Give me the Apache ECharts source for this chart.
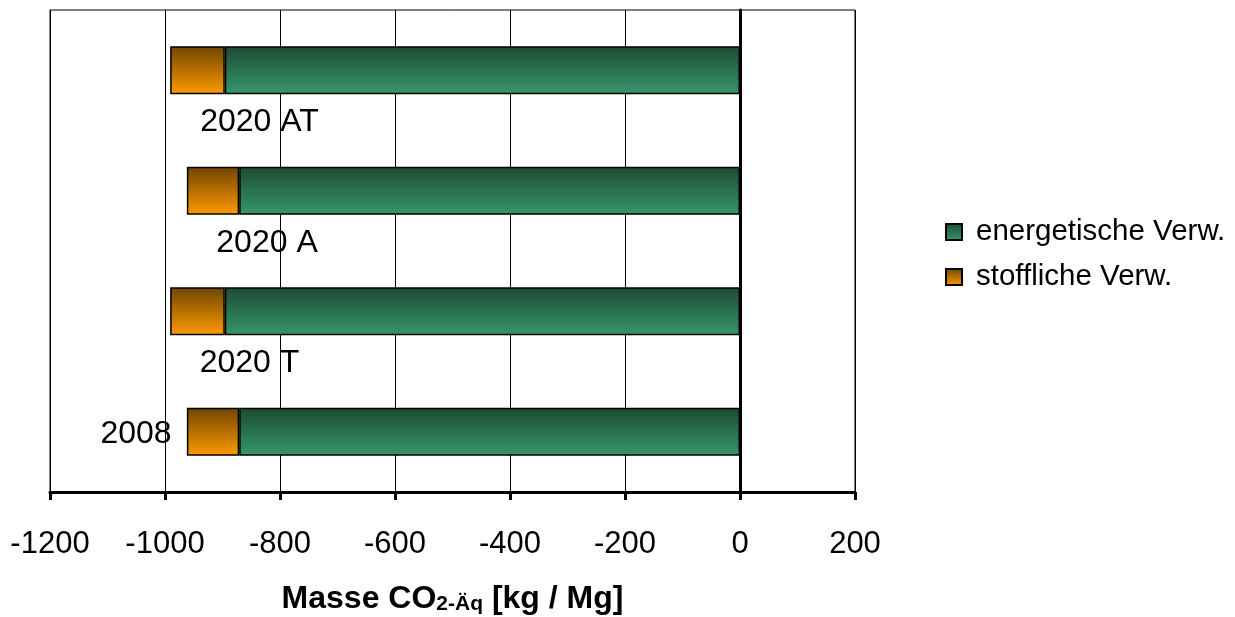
<!DOCTYPE html>
<html><head><meta charset="utf-8">
<script src="https://cdn.jsdelivr.net/npm/echarts@6/dist/echarts.min.js"></script>
<style>html,body{margin:0;padding:0;background:#fff}#c{width:1235px;height:617px}</style>
</head><body><div id="c"></div>
<script>
// bottom-to-top category order
var categories = ['2008', '2020 T', '2020 A', '2020 AT'];
var energetisch = [-871, -896, -871, -896];
var stofflich = [-91, -95, -91, -95];
var xTicks = [-1200, -1000, -800, -600, -400, -200, 0, 200];

var FONT = '"Liberation Sans", Arial, sans-serif';
// label offsets (style only)
var labelOffsets = [[-77, -38], [52, 12], [54, 12], [62, 12]];

function grad(top, bottom) {
  return new echarts.graphic.LinearGradient(0, 0, 0, 1, [
    {offset: 0, color: top}, {offset: 1, color: bottom}
  ]);
}
var greenGrad = grad('#1d4a34', '#36976b');
var orangeGrad = grad('#6e4500', '#ff9a00');

var chart = echarts.init(document.getElementById('c'));
chart.setOption({
  animation: false,
  backgroundColor: '#fff',
  grid: {left: 50, right: 380, top: 10, bottom: 125, show: true, borderColor: '#000', borderWidth: 1, outerBoundsMode: 'none', containLabel: false},
  legend: {
    orient: 'vertical', left: 940, top: 212,
    itemWidth: 16, itemHeight: 16, itemGap: 15, icon: 'rect',
    textStyle: {fontFamily: FONT, fontSize: 29.5, color: '#000', lineHeight: 30, padding: [0, 0, 0, 9]},
    data: ['energetische Verw.', 'stoffliche Verw.']
  },
  xAxis: {
    type: 'value', min: xTicks[0], max: xTicks[xTicks.length - 1], interval: 200,
    axisLine: {show: true, onZero: false, lineStyle: {color: '#000', width: 3}},
    axisTick: {show: true, length: 8, lineStyle: {color: '#000', width: 3}},
    axisLabel: {fontFamily: FONT, fontSize: 31, color: '#000', margin: 37, formatter: function (v) { return String(v); }},
    splitLine: {show: true, lineStyle: {color: '#000', width: 1}},
    name: '{b|Masse CO}{s|2-Äq}{b| [kg / Mg]}',
    nameLocation: 'middle', nameGap: 89,
    nameTextStyle: {
      rich: {
        b: {fontFamily: FONT, fontSize: 32, fontWeight: 'bold', color: '#000', lineHeight: 34, verticalAlign: 'bottom'},
        s: {fontFamily: FONT, fontSize: 21, fontWeight: 'bold', color: '#000', lineHeight: 12, verticalAlign: 'bottom'}
      }
    }
  },
  yAxis: {
    type: 'category', data: categories,
    axisLine: {show: true, onZero: true, lineStyle: {color: '#000', width: 3}},
    axisTick: {show: false}, axisLabel: {show: false}, splitLine: {show: false}
  },
  series: [
    {
      name: 'energetische Verw.', type: 'bar', stack: 'a', barWidth: 48,
      itemStyle: {color: greenGrad, borderColor: '#000', borderWidth: 1.5},
      data: energetisch
    },
    {
      name: 'stoffliche Verw.', type: 'bar', stack: 'a', barWidth: 48,
      itemStyle: {color: orangeGrad, borderColor: '#000', borderWidth: 1.5},
      data: stofflich.map(function (v, i) {
        return {value: v, label: {show: true, position: 'bottom', distance: 0, offset: labelOffsets[i],
          formatter: '{b}', fontFamily: FONT, fontSize: 32, color: '#000'}};
      })
    }
  ]
});
</script></body></html>
